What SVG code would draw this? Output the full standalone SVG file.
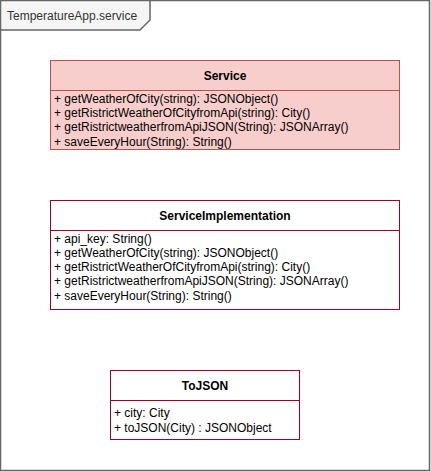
<svg xmlns="http://www.w3.org/2000/svg" width="431" height="471" viewBox="0 0 431 471">
<style>
text{font-family:"Liberation Sans",Arial,sans-serif;font-size:12px;fill:#000}
.t{font-weight:bold;text-anchor:middle}
</style>
<rect width="431" height="471" fill="#fff"/>
<g id="package">
<rect x="0.5" y="0.5" width="429" height="470" fill="#fff" stroke="#666" stroke-width="1.5"/>
<path d="M0.5 0.5H150V20L140 30H0.5Z" fill="#f5f5f5" stroke="#666" stroke-width="1.5"/>
<text x="7" y="19.5" style="fill:#333">TemperatureApp.service</text>
</g>
<g id="connectors"></g>
<g id="Service">
<rect x="50.5" y="60.5" width="349" height="89" fill="#f8cecc" stroke="#b85450"/>
<line x1="50.5" y1="90.5" x2="399.5" y2="90.5" stroke="#b85450"/>
<text class="t" x="225" y="79.5">Service</text>
<text x="54" y="102.6">+ getWeatherOfCity(string): JSONObject()</text>
<text x="54" y="117">+ getRistrictWeatherOfCityfromApi(string): City()</text>
<text x="54" y="131.4">+ getRistrictweatherfromApiJSON(String): JSONArray()</text>
<text x="54" y="145.8">+ saveEveryHour(String): String()</text>
</g>
<g id="ServiceImplementation">
<rect x="50.5" y="200.5" width="349" height="109" fill="#fff" stroke="#a20025"/>
<line x1="50.5" y1="230.5" x2="399.5" y2="230.5" stroke="#a20025"/>
<text class="t" x="225" y="219.5">ServiceImplementation</text>
<text x="54" y="242.6">+ api_key: String()</text>
<text x="54" y="256.8">+ getWeatherOfCity(string): JSONObject()</text>
<text x="54" y="271">+ getRistrictWeatherOfCityfromApi(string): City()</text>
<text x="54" y="285.3">+ getRistrictweatherfromApiJSON(String): JSONArray()</text>
<text x="54" y="299.5">+ saveEveryHour(String): String()</text>
</g>
<g id="ToJSON">
<rect x="110.5" y="370.5" width="189" height="69" fill="#fff" stroke="#a20025"/>
<line x1="110.5" y1="400.5" x2="299.5" y2="400.5" stroke="#a20025"/>
<text class="t" x="205" y="389.5">ToJSON</text>
<text x="114" y="417">+ city: City</text>
<text x="114" y="432">+ toJSON(City) : JSONObject</text>
</g>
</svg>
